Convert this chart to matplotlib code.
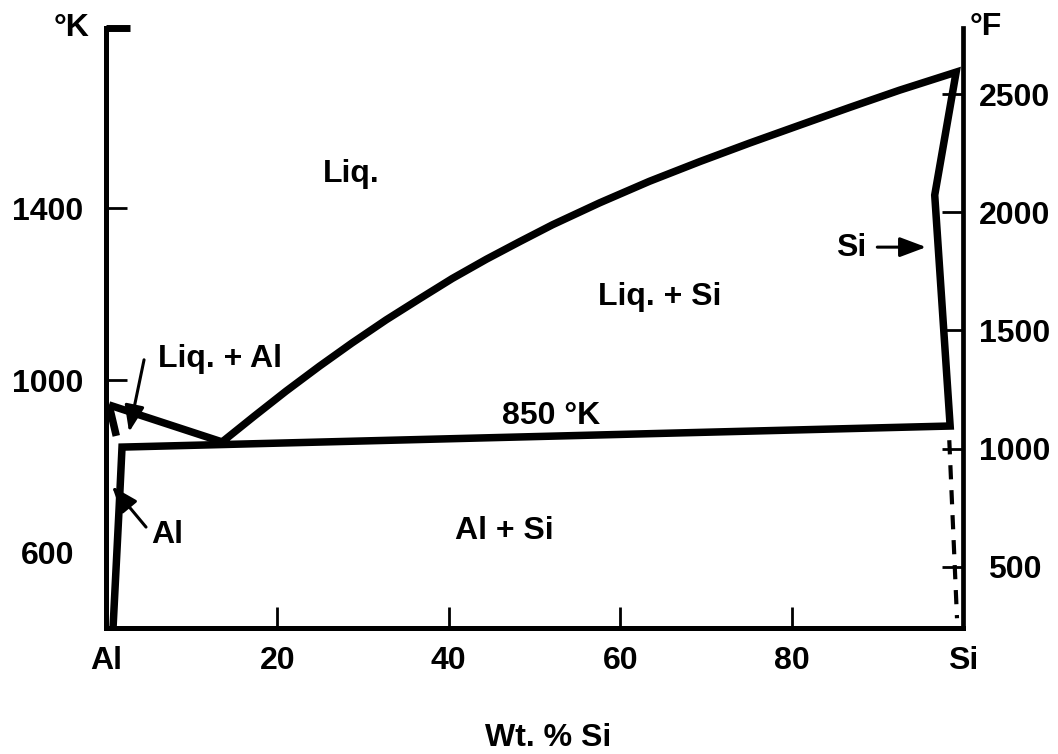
import matplotlib
matplotlib.use("Agg")
import matplotlib.pyplot as plt
import numpy as np

# ---- Al-Si phase diagram data (wt.% Si, temperature in K) ----
liq_al_wt = [0.35, 13.55]            # liquidus, Al-rich side
liq_al_K = [942, 856]

liq_si_wt = [13.55, 17.3, 21.0, 24.9, 28.7, 32.7, 36.6, 40.4, 44.4, 48.3,
             52.1, 57.6, 63.4, 69.3, 75.1, 81.0, 86.8, 92.6, 99.2]
liq_si_K = [856, 916, 974, 1032, 1086, 1140, 1189, 1236, 1281, 1322,
            1361, 1412, 1462, 1508, 1551, 1593, 1634, 1674, 1716]

al_sol_upper_wt = [0.35, 1.2]        # solidus of Al from its melting point
al_sol_upper_K = [942, 870]

al_solvus_wt = [0.82, 1.52, 1.87]    # Al solid solution boundary
al_solvus_K = [423, 698, 844]

eutectic_wt = [1.87, 98.5]           # eutectic reaction line
eutectic_K = [844, 893]

si_sol_wt = [98.5, 96.7, 99.2]       # Si solid solution boundary
si_sol_K = [893, 1430, 1716]

si_solvus_wt = [98.4, 99.3]          # dashed low-temperature Si boundary
si_solvus_K = [860, 446]

x_ticks = [0, 20, 40, 60, 80, 100]
x_labels = ["Al", "20", "40", "60", "80", "Si"]
k_ticks = [1000, 1400]
k_label_only = [600]
f_ticks = [500, 1000, 1500, 2000, 2500]
K_LIM = (423.3, 1818.6)
F_LIM = (241.0, 2780.0)

plt.rcParams["font.family"] = ["Liberation Sans", "DejaVu Sans"]
plt.rcParams["font.weight"] = "bold"
FS = 23
LW = 5.4

fig = plt.figure(figsize=(10.58, 7.54), dpi=100)
ax = fig.add_axes([106 / 1058, 126 / 754, 857 / 1058, 600 / 754])
ax.set_xlim(0, 100)
ax.set_ylim(*K_LIM)

ax.spines["top"].set_visible(False)
ax.spines["right"].set_visible(False)
for s in ("left", "bottom"):
    ax.spines[s].set_linewidth(3.6)

# bottom axis
ax.set_xticks(x_ticks)
ax.set_xticklabels(x_labels, fontsize=FS, fontweight="bold")
ax.tick_params(axis="x", direction="in", length=15, width=2, pad=13)
ax.set_xlabel("Wt. % Si", fontsize=FS, fontweight="bold", va="top")
ax.xaxis.set_label_coords((548 - 106) / 857, (628 - 723) / 600)

# left axis (K): ticked values, an unticked 600 label, and a heavy cap at the top
ax.set_yticks(k_ticks + [K_LIM[1]])
ax.set_yticklabels([str(t) for t in k_ticks] + [""], fontsize=FS, fontweight="bold")
ax.tick_params(axis="y", which="major", direction="in", length=15, width=2, pad=42)
ax.set_yticks(k_label_only, minor=True)
ax.set_yticklabels([str(t) for t in k_label_only], minor=True, fontsize=FS, fontweight="bold")
ax.tick_params(axis="y", which="minor", length=0, pad=42)
plt.setp(ax.get_yticklabels(which="both"), ha="center")
cap = ax.yaxis.get_major_ticks()[-1]
cap.tick1line.set_markersize(17)
cap.tick1line.set_markeredgewidth(5)
ax.set_ylabel("°K", rotation=0, fontsize=FS, fontweight="bold", ha="center", va="baseline")
ax.yaxis.set_label_coords((72 - 106) / 857, (628 - 36) / 600)

# right axis (F)
ax2 = ax.twinx()
ax2.set_ylim(*F_LIM)
for s in ("top", "left", "bottom"):
    ax2.spines[s].set_visible(False)
ax2.spines["right"].set_linewidth(3.4)
ax2.set_yticks(f_ticks)
ax2.set_yticklabels([str(t) for t in f_ticks], fontsize=FS, fontweight="bold")
ax2.tick_params(axis="y", direction="in", length=15, width=2, pad=37)
plt.setp(ax2.get_yticklabels(), ha="center")
ax2.set_ylabel("°F", rotation=0, fontsize=FS, fontweight="bold", ha="center", va="baseline")
ax2.yaxis.set_label_coords((986 - 106) / 857, (628 - 35) / 600)

line_kw = dict(color="black", lw=LW, solid_joinstyle="miter", solid_capstyle="butt")

# Al solvus -> eutectic line -> Si solidus -> Si liquidus, drawn as one stroke
outline_wt = np.concatenate([al_solvus_wt, eutectic_wt[1:], si_sol_wt[1:], liq_si_wt[::-1][1:]])
outline_K = np.concatenate([al_solvus_K, eutectic_K[1:], si_sol_K[1:], liq_si_K[::-1][1:]])
ax.plot(outline_wt, outline_K, **line_kw)
ax.plot(liq_al_wt, liq_al_K, **line_kw)
ax.plot(al_sol_upper_wt, al_sol_upper_K, **line_kw)
ax.plot(si_solvus_wt, si_solvus_K, color="black", lw=3, linestyle=(0, (3.4, 2.6)))

# region labels
txt = dict(fontsize=FS, fontweight="bold", ha="center", va="baseline")
ax.text(28.6, 1460, "Liq.", **txt)
ax.text(64.6, 1174, "Liq. + Si", **txt)
ax.text(13.3, 1030, "Liq. + Al", **txt)
ax.text(51.9, 898, "850 °K", **txt)
ax.text(46.5, 630, "Al + Si", **txt)
ax.text(7.1, 621, "Al", **txt)
ax.text(86.9, 1288, "Si", **txt)

arrow = dict(arrowstyle="-|>,head_length=0.8,head_width=0.3", color="black",
             lw=2.2, shrinkA=0, shrinkB=0, mutation_scale=20)
ax.annotate("", xy=(2.69, 879), xytext=(4.44, 1047), arrowprops=arrow)
ax.annotate("", xy=(0.70, 753), xytext=(4.67, 658), arrowprops=arrow)
ax.annotate("", xy=(95.7, 1309), xytext=(90.0, 1309), arrowprops=arrow)

fig.savefig("out.png", dpi=100)
